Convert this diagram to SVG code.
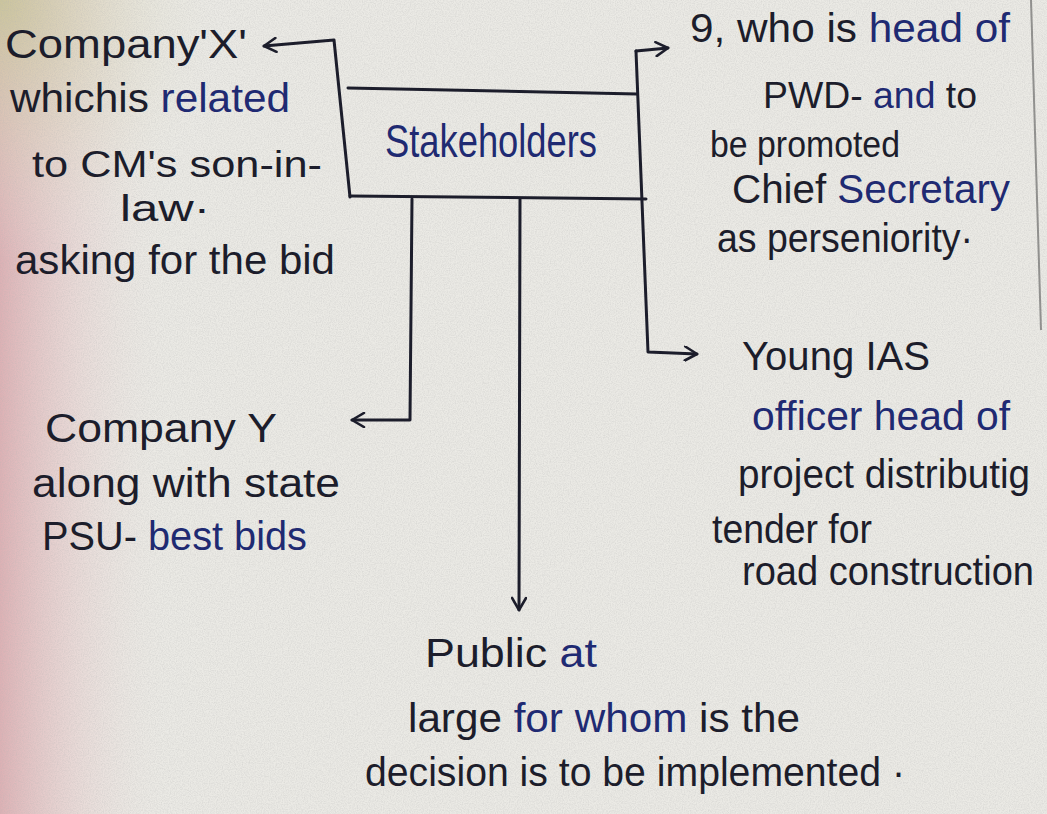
<svg xmlns="http://www.w3.org/2000/svg" width="1047" height="814" viewBox="0 0 1047 814">
  <defs>
    <style>
      .ink { fill: #1c1d2b; }
      .blue { fill: #1f2a72; }
      text { font-family: "Liberation Sans", "DejaVu Sans", sans-serif; font-size: 40px; }
      .sm { font-size: 36px; }
      .lg { font-size: 46px; }
      .ln { fill: none; stroke: #1c1d2b; stroke-width: 3; stroke-linecap: round; stroke-linejoin: round; }
    </style>
    <marker id="ah" viewBox="0 0 16 16" refX="14" refY="8" markerWidth="16" markerHeight="16" markerUnits="userSpaceOnUse" orient="auto">
      <path d="M2,1 L14,8 L2,15" fill="none" stroke="#1c1d2b" stroke-width="2.6" stroke-linecap="round" stroke-linejoin="round"/>
    </marker>
    <linearGradient id="edge" x1="0" y1="0" x2="1" y2="0">
      <stop offset="0" stop-color="#dcaeb2" stop-opacity="0.95"/>
      <stop offset="0.45" stop-color="#e6c9c9" stop-opacity="0.5"/>
      <stop offset="1" stop-color="#ebe9e4" stop-opacity="0"/>
    </linearGradient>
    <radialGradient id="corner" cx="0" cy="0" r="1">
      <stop offset="0" stop-color="#c9c79a" stop-opacity="0.9"/>
      <stop offset="1" stop-color="#e9e6da" stop-opacity="0"/>
    </radialGradient>
    <filter id="grain" x="0" y="0" width="100%" height="100%">
      <feTurbulence type="fractalNoise" baseFrequency="0.85" numOctaves="2" seed="4"/>
      <feColorMatrix type="matrix" values="0 0 0 0 0.45  0 0 0 0 0.45  0 0 0 0 0.45  0 0 0 1.6 -0.55"/>
    </filter>
  </defs>

  <!-- paper -->
  <rect width="1047" height="814" fill="#ebeae5"/>
  <rect width="170" height="814" fill="url(#edge)"/>
  <rect width="220" height="260" fill="url(#corner)"/>
  <rect width="1047" height="814" filter="url(#grain)" opacity="0.35"/>
  <path d="M1031,0 L1041,330" stroke="#4a4a4a" stroke-width="2" opacity="0.55" fill="none"/>

  <!-- connectors -->
  <g id="connectors">
    <path class="ln" d="M350,197 L334,40 L264,46" marker-end="url(#ah)"/>
    <path class="ln" d="M636,51 L668,48" marker-end="url(#ah)"/>
    <path class="ln" d="M636,51 L648,352 L697,354" marker-end="url(#ah)"/>
    <path class="ln" d="M412,199 L410,420 L352,420" marker-end="url(#ah)"/>
    <path class="ln" d="M520,199 L519,610" marker-end="url(#ah)"/>
  </g>

  <!-- central node -->
  <g id="stakeholders">
    <path class="ln" d="M348,88 L637,94 M350,196 L646,199"/>
    <text class="blue lg" x="385" y="157" textLength="212" lengthAdjust="spacingAndGlyphs">Stakeholders</text>
  </g>

  <g id="company-x">
    <text class="ink" x="5" y="58" textLength="242" lengthAdjust="spacingAndGlyphs">Company'X'</text>
    <text class="ink" x="10" y="112" textLength="280" lengthAdjust="spacingAndGlyphs">whichis <tspan class="blue">related</tspan></text>
    <text class="ink sm" x="32" y="177" textLength="290" lengthAdjust="spacingAndGlyphs">to CM's son-in-</text>
    <text class="ink sm" x="120" y="221" textLength="90" lengthAdjust="spacingAndGlyphs">law·</text>
    <text class="ink" x="15" y="274" textLength="320" lengthAdjust="spacingAndGlyphs">asking for the bid</text>
  </g>

  <g id="officer-head-pwd">
    <text class="ink" x="690" y="42" textLength="320" lengthAdjust="spacingAndGlyphs">9, who is <tspan class="blue">head of</tspan></text>
    <text class="ink sm" x="763" y="108" textLength="214" lengthAdjust="spacingAndGlyphs">PWD- <tspan class="blue">and</tspan> to</text>
    <text class="ink sm" x="710" y="157" textLength="190" lengthAdjust="spacingAndGlyphs">be promoted</text>
    <text class="ink" x="732" y="203" textLength="278" lengthAdjust="spacingAndGlyphs">Chief <tspan class="blue">Secretary</tspan></text>
    <text class="ink" x="717" y="252" textLength="256" lengthAdjust="spacingAndGlyphs">as perseniority·</text>
  </g>

  <g id="young-ias">
    <text class="ink" x="742" y="370" textLength="188" lengthAdjust="spacingAndGlyphs">Young IAS</text>
    <text class="blue" x="752" y="430" textLength="258" lengthAdjust="spacingAndGlyphs">officer head of</text>
    <text class="ink" x="738" y="488" textLength="292" lengthAdjust="spacingAndGlyphs">project distributig</text>
    <text class="ink" x="712" y="543" textLength="160" lengthAdjust="spacingAndGlyphs">tender for</text>
    <text class="ink" x="742" y="585" textLength="292" lengthAdjust="spacingAndGlyphs">road construction</text>
  </g>

  <g id="company-y">
    <text class="ink" x="45" y="442" textLength="232" lengthAdjust="spacingAndGlyphs">Company Y</text>
    <text class="ink" x="32" y="497" textLength="308" lengthAdjust="spacingAndGlyphs">along with state</text>
    <text class="ink" x="42" y="550" textLength="265" lengthAdjust="spacingAndGlyphs">PSU- <tspan class="blue">best bids</tspan></text>
  </g>

  <g id="public">
    <text class="ink" x="425" y="667" textLength="172" lengthAdjust="spacingAndGlyphs">Public <tspan class="blue">at</tspan></text>
    <text class="ink" x="408" y="732" textLength="392" lengthAdjust="spacingAndGlyphs">large <tspan class="blue">for whom</tspan> is the</text>
    <text class="ink" x="365" y="786" textLength="540" lengthAdjust="spacingAndGlyphs">decision is to be implemented ·</text>
  </g>
</svg>
